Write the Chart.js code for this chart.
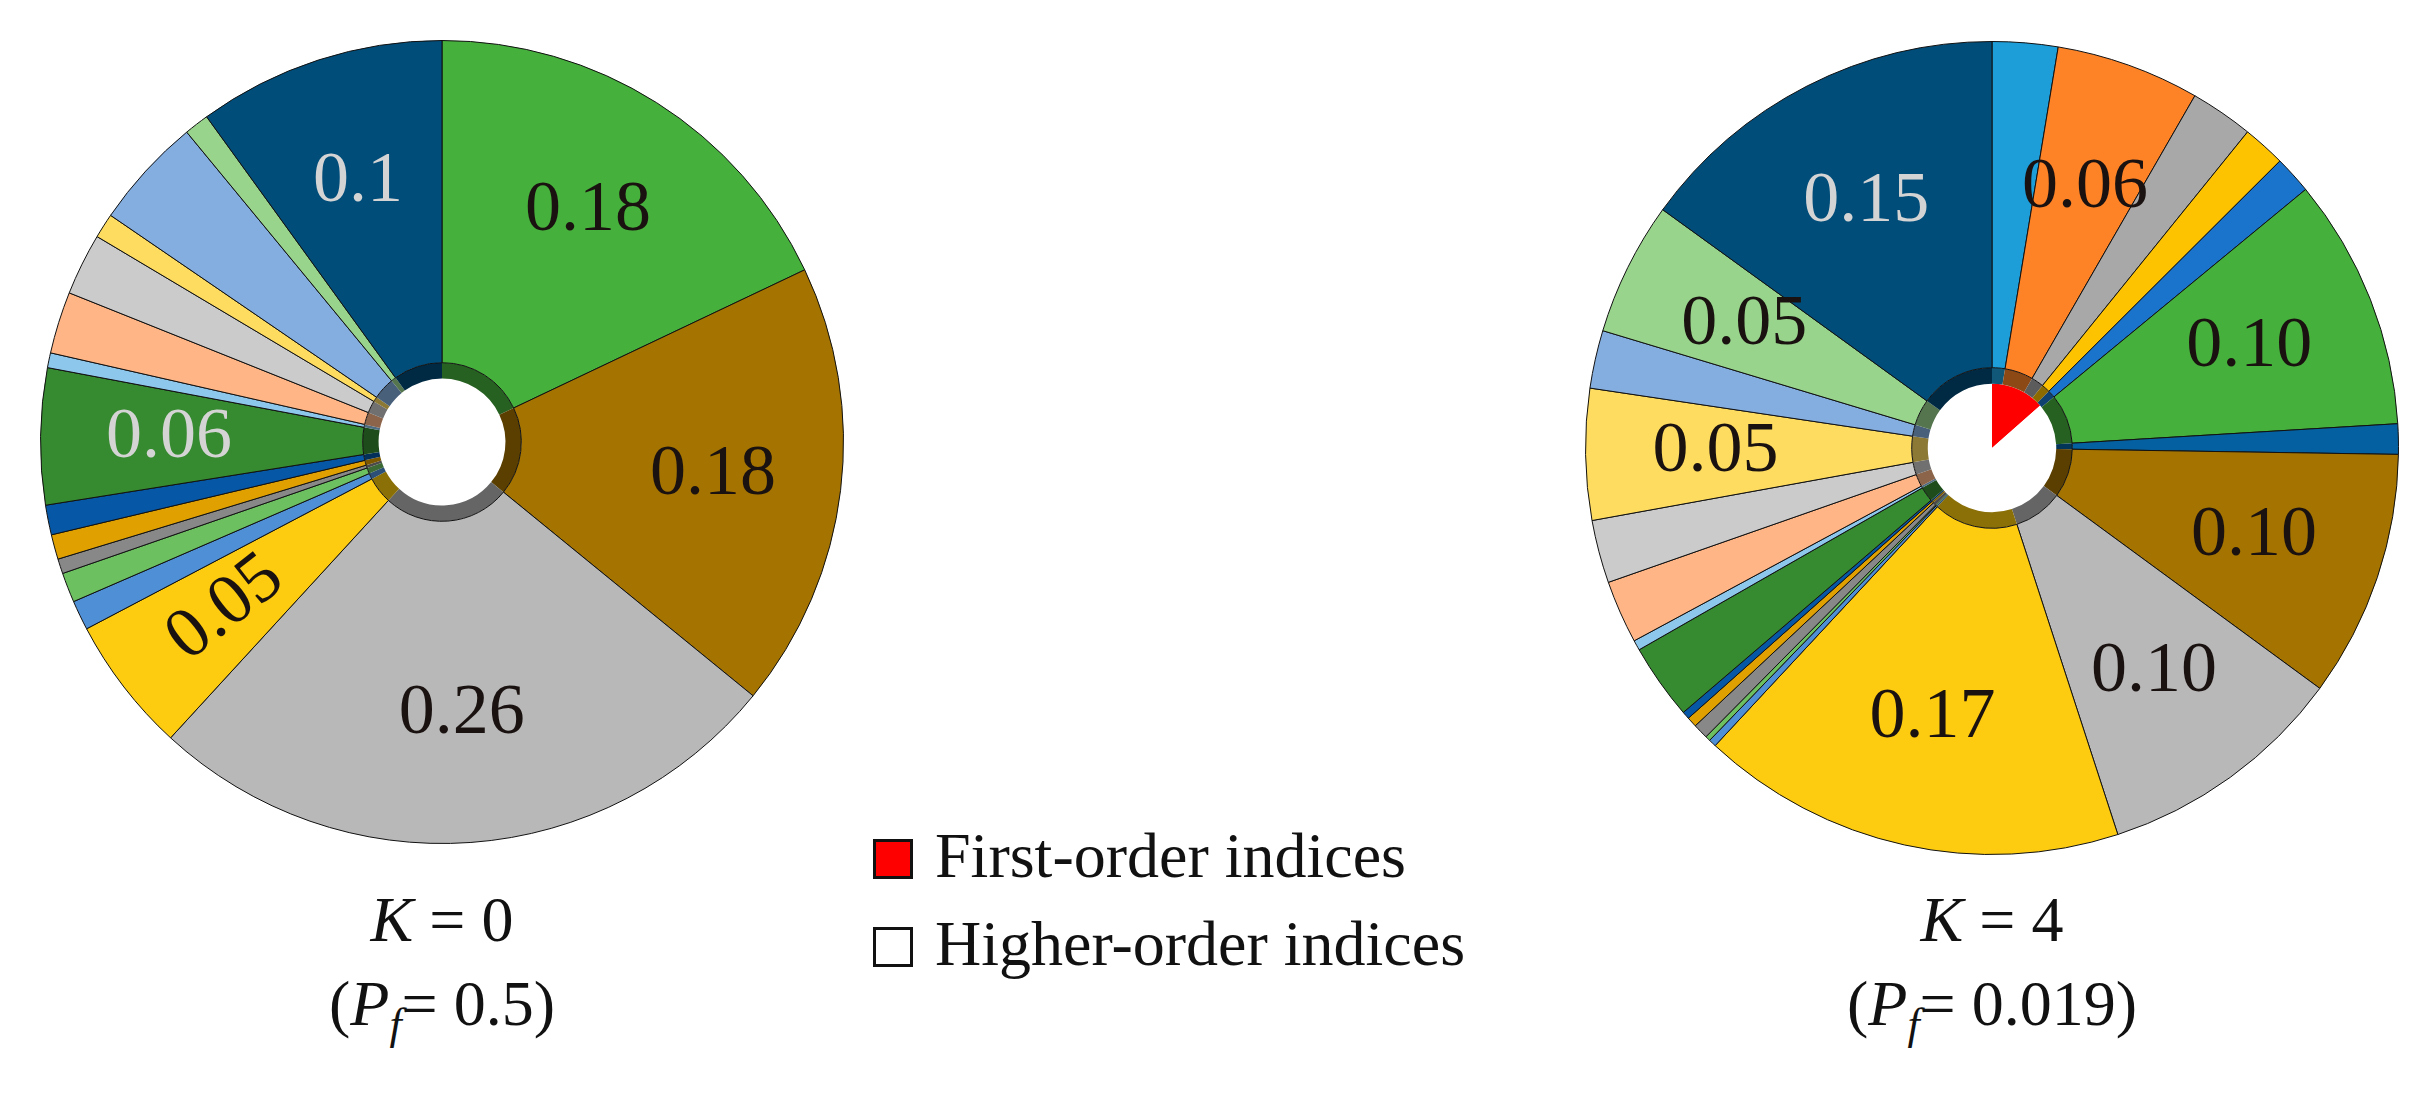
<!DOCTYPE html>
<html>
<head>
  <meta charset="UTF-8">
  <title>Sobol indices pies</title>
  <style>
    body { margin: 0; width: 2433px; height: 1119px; overflow: hidden; background: #fff; font-family: "Liberation Serif", serif; color: #111; }
    .box { position: absolute; }
    .cap { position: absolute; text-align: center; font-size: 64px; line-height: 84px; width: 600px; }
    .legend { position: absolute; left: 873px; top: 812px; font-size: 64px; line-height: 88px; }
    .sq { display: inline-block; width: 34px; height: 34px; border: 3px solid #111; margin-right: 22px; vertical-align: -2px; }
  </style>
  <script src="https://cdn.jsdelivr.net/npm/chart.js"></script>
</head>
<body>
  <div class="box" style="left:39px;top:39px;width:806px;height:806px"><canvas id="left"></canvas></div>
  <div class="box" style="left:1584px;top:40px;width:816px;height:816px"><canvas id="right"></canvas></div>
  <div class="cap" style="left:142px;top:878px"><i>K</i> = 0<br>(<i>P<sub style="font-size:44px">f</sub></i>= 0.5)</div>
  <div class="cap" style="left:1692px;top:878px"><i>K</i> = 4<br>(<i>P<sub style="font-size:44px">f</sub></i>= 0.019)</div>
  <div class="legend">
    <div><span class="sq" style="background:#ff0000"></span>First-order indices</div>
    <div><span class="sq" style="background:#fff"></span>Higher-order indices</div>
  </div>

  <script>
    // K = 0, clockwise from top
    var leftValues = [0.18, 0.18, 0.26, 0.055, 0.012, 0.012, 0.006, 0.01, 0.012, 0.055, 0.006, 0.025, 0.025, 0.01, 0.045, 0.01, 0.1];
    var leftColors = ['#46b03c', '#a47300', '#b8b8b8', '#fdcb0f', '#4f8fd6', '#6cc060', '#888888', '#e0a000', '#0657a6', '#368a30', '#8ec7ec', '#ffb585', '#cbcbcb', '#fedc60', '#84aee0', '#98d48c', '#004d7a'];
    var leftLabels = ['0.18', '0.18', '0.26', '0.05', '', '', '', '', '', '0.06', '', '', '', '', '', '', '0.1'];
    var leftFirst = 0;

    // K = 4, clockwise from top
    var rightValues = [0.026, 0.057, 0.025, 0.017, 0.015, 0.1, 0.012, 0.098, 0.099, 0.169, 0.003, 0.002, 0.006, 0.004, 0.003, 0.03, 0.004, 0.025, 0.025, 0.052, 0.023, 0.053, 0.15];
    var rightColors = ['#1e9ed9', '#fe8226', '#a8a8a8', '#fdc200', '#1a74cc', '#46b03c', '#0460a0', '#a47300', '#b8b8b8', '#fdcb0f', '#4f8fd6', '#6cc060', '#888888', '#e0a000', '#0657a6', '#368a30', '#8ec7ec', '#ffb585', '#cbcbcb', '#fedc60', '#84aee0', '#98d48c', '#004d7a'];
    var rightLabels = ['', '0.06', '', '', '', '0.10', '', '0.10', '0.10', '0.17', '', '', '', '', '', '', '', '', '', '0.05', '', '0.05', '0.15'];
    var rightFirst = 0.135;

    function darker(hex, f) {
      var n = parseInt(hex.slice(1), 16);
      var r = Math.round(((n >> 16) & 255) * f), g = Math.round(((n >> 8) & 255) * f), b = Math.round((n & 255) * f);
      return 'rgb(' + r + ',' + g + ',' + b + ')';
    }

    var lightText = ['#004d7a', '#368a30'];

    var labelPlugin = {
      id: 'sliceLabels',
      afterDatasetsDraw: function (chart, args, opts) {
        var ctx = chart.ctx;
        var meta = chart.getDatasetMeta(0);
        var labels = opts.labels;
        var colors = chart.data.datasets[0].backgroundColor;
        ctx.save();
        ctx.font = '72px "Liberation Serif", serif';
        ctx.textAlign = 'center';
        ctx.textBaseline = 'middle';
        meta.data.forEach(function (arc, i) {
          if (!labels[i]) return;
          var mid = (arc.startAngle + arc.endAngle) / 2;
          var r = arc.outerRadius * 0.68;
          ctx.save();
          ctx.translate(arc.x + Math.cos(mid) * r, arc.y + Math.sin(mid) * r);
          if (opts.rotate && opts.rotate[i]) ctx.rotate(opts.rotate[i] * Math.PI / 180);
          ctx.fillStyle = lightText.indexOf(colors[i]) >= 0 ? '#d4d4d4' : '#1a1210';
          ctx.fillText(labels[i], 0, 0);
          ctx.restore();
        });
        ctx.restore();
      }
    };

    function makePie(id, values, colors, labels, first, rotate) {
      new Chart(document.getElementById(id), {
        type: 'doughnut',
        data: {
          datasets: [
            { data: values, backgroundColor: colors, borderColor: '#111', borderWidth: 1, weight: 325 },
            { data: values, backgroundColor: colors.map(function (c) { return darker(c, 0.55); }), borderWidth: 0, weight: 16 },
            { data: [first, 1 - first], backgroundColor: ['#ff0000', '#fff'], borderWidth: 0, weight: 64 }
          ]
        },
        options: {
          responsive: true,
          maintainAspectRatio: false,
          animation: false,
          cutout: 0,
          layout: { padding: 1 },
          plugins: {
            legend: { display: false },
            tooltip: { enabled: false },
            sliceLabels: { labels: labels, rotate: rotate }
          }
        },
        plugins: [labelPlugin]
      });
    }

    makePie('left', leftValues, leftColors, leftLabels, leftFirst, { 3: -38 });
    makePie('right', rightValues, rightColors, rightLabels, rightFirst, null);
  </script>
</body>
</html>
